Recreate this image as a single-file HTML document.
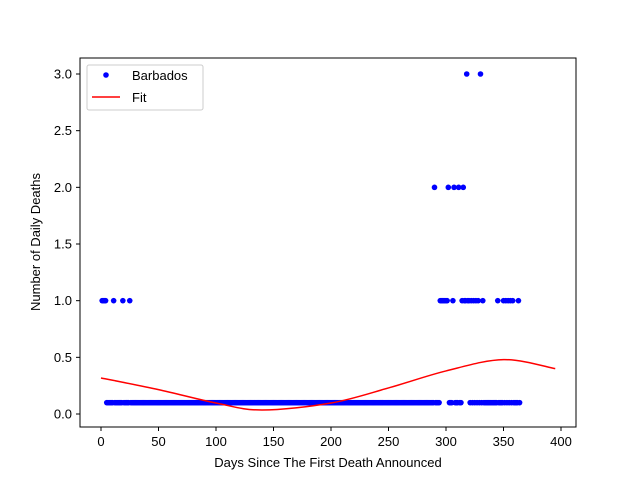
<!DOCTYPE html>
<html><head><meta charset="utf-8"><style>body{margin:0;background:#fff}svg{font-family:"Liberation Sans",sans-serif}</style></head>
<body>
<svg id="chart" width="640" height="480">
<rect width="640" height="480" fill="#fff"/>
<g id="plot"></g>
<rect x="80" y="58" width="496" height="369" fill="none" stroke="#000" stroke-width="1"/>
<g id="ticks" font-size="13"></g>
<text x="328" y="467" text-anchor="middle" font-size="13">Days Since The First Death Announced</text>
<text transform="translate(40,242) rotate(-90)" text-anchor="middle" font-size="13">Number of Daily Deaths</text>
<g>
<rect x="87" y="65" width="116" height="45" fill="#fff" stroke="#ccc" rx="2"/>
<circle cx="106" cy="75" r="2.8" fill="#0000ff"/>
<text x="132" y="80" font-size="13">Barbados</text>
<line x1="92" y1="97" x2="120" y2="97" stroke="#ff0000" stroke-width="1.5"/>
<text x="132" y="102" font-size="13">Fit</text>
</g>
</svg>
<script>
const oneDays=[1,2,3,4,11,19,25,295,296,297,298,299,300,301,306,314,316,317,319,320,322,324,326,328,332,345,350,352,354,356,358,363];
const twoDays=[290,302,307,311,315];
const threeDays=[318,330];
const lastDay=364;
const zeroValue=0.1;
const fitX=[0,50,100,140,200,250,300,350,395];
const fitY=[0.318,0.215,0.097,0.035,0.097,0.23,0.38,0.48,0.40];
const xTicks=[0,50,100,150,200,250,300,350,400];
const yTicks=[0,0.5,1.0,1.5,2.0,2.5,3.0];
const X=d=>101+d*1.15, Y=v=>414-v*113.33;
const NS="http://www.w3.org/2000/svg";
const plot=document.getElementById('plot'), ticks=document.getElementById('ticks');
function mk(t,a,p){const e=document.createElementNS(NS,t);for(const k in a)e.setAttribute(k,a[k]);p.appendChild(e);return e;}
const nz=new Set([...oneDays,...twoDays,...threeDays]);
function dot(d,v,name){const c=mk('circle',{cx:X(d),cy:Y(v),r:2.8,fill:'#0000ff'},plot);

}
for(let d=1;d<=lastDay;d++){if(!nz.has(d))dot(d,zeroValue,'point-zero');}
oneDays.forEach(d=>dot(d,1,'point-one'));
twoDays.forEach(d=>dot(d,2,'point-two'));
threeDays.forEach(d=>dot(d,3,'point-three'));
const P=fitX.map((x,i)=>[X(x),Y(fitY[i])]);
let dstr='M'+P[0][0]+','+P[0][1];
for(let i=0;i<P.length-1;i++){const p0=P[Math.max(0,i-1)],p1=P[i],p2=P[i+1],p3=P[Math.min(P.length-1,i+2)];
dstr+=' C'+(p1[0]+(p2[0]-p0[0])/6)+','+(p1[1]+(p2[1]-p0[1])/6)+' '+(p2[0]-(p3[0]-p1[0])/6)+','+(p2[1]-(p3[1]-p1[1])/6)+' '+p2[0]+','+p2[1];}
const fl=mk('path',{d:dstr,fill:'none',stroke:'#ff0000','stroke-width':1.5},plot);


xTicks.forEach(t=>{mk('line',{x1:X(t),x2:X(t),y1:427,y2:431,stroke:'#000'},ticks);
const tx=mk('text',{x:X(t),y:446,'text-anchor':'middle'},ticks);tx.textContent=t;

});
yTicks.forEach(t=>{mk('line',{x1:76,x2:80,y1:Y(t),y2:Y(t),stroke:'#000'},ticks);
const tx=mk('text',{x:72,y:Y(t)+4.5,'text-anchor':'end'},ticks);tx.textContent=t.toFixed(1);

});
</script>
</body></html>
